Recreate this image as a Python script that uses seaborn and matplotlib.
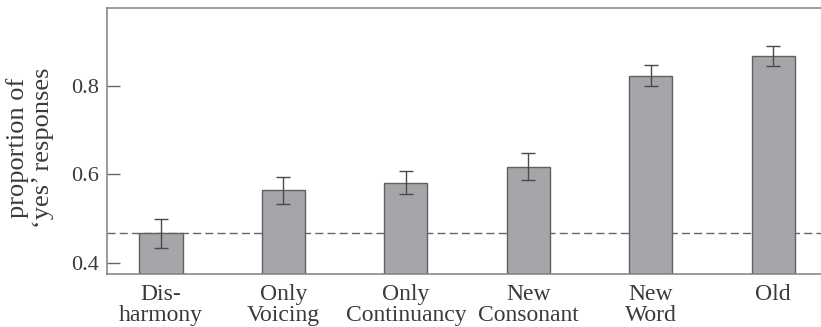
import matplotlib
matplotlib.use("Agg")
import matplotlib.pyplot as plt
import seaborn as sns
import pandas as pd
import numpy as np

conditions = ["Dis-\nharmony", "Only\nVoicing", "Only\nContinuancy", "New\nConsonant", "New\nWord", "Old"]
proportion_yes = [0.466, 0.563, 0.581, 0.617, 0.823, 0.867]
std_error = [0.033, 0.030, 0.026, 0.031, 0.024, 0.022]
baseline = 0.467
yticks = [0.4, 0.6, 0.8]

sns.set_theme(style="white")
plt.rcParams["font.family"] = ["Liberation Serif", "DejaVu Serif"]

df = pd.DataFrame({"condition": conditions, "prop": proportion_yes})

fig = plt.figure(figsize=(8.21, 3.27), dpi=100)
ax = fig.add_axes([0.1303, 0.162, 0.8697, 0.815])

sns.barplot(data=df, x="condition", y="prop", order=conditions, color="#a5a6aa",
            saturation=1, width=0.354, edgecolor="#606060", linewidth=1.0,
            errorbar=None, ax=ax)
ax.errorbar(np.arange(len(conditions)), proportion_yes, yerr=std_error, fmt="none",
            ecolor="#4a4a4a", elinewidth=1.0, capsize=4.7, capthick=1.0)
ax.axhline(baseline, color="#666666", linestyle=(0, (5.8, 3)), linewidth=1.0, zorder=0.5)

ax.set_xlim(-0.44, 5.39)
ax.set_ylim(0.374, 0.977)
ax.set_yticks(yticks)
ax.set_yticklabels([f"{t:.1f}" for t in yticks], fontsize=16, color="#3a3a3a")
ax.tick_params(axis="y", direction="in", length=9.5, width=1.0, color="#666666", pad=6, left=True)
ax.tick_params(axis="x", length=0, pad=7)
for lbl in ax.get_xticklabels():
    lbl.set_fontsize(17)
    lbl.set_linespacing(1.0)
    lbl.set_color("#3a3a3a")
    lbl.set_verticalalignment("top")
ax.set_xlabel("")
ax.set_ylabel("")

for side in ["left", "top", "bottom"]:
    ax.spines[side].set_color("#808080")
    ax.spines[side].set_linewidth(1.1)
ax.spines["right"].set_visible(False)

fig.text(30 / 821, 1 - 148 / 327, "proportion of\n\u2018yes\u2019 responses", rotation=90,
         ha="center", va="center", fontsize=19, color="#3a3a3a", linespacing=1.2)

fig.savefig("out.png", dpi=100)
